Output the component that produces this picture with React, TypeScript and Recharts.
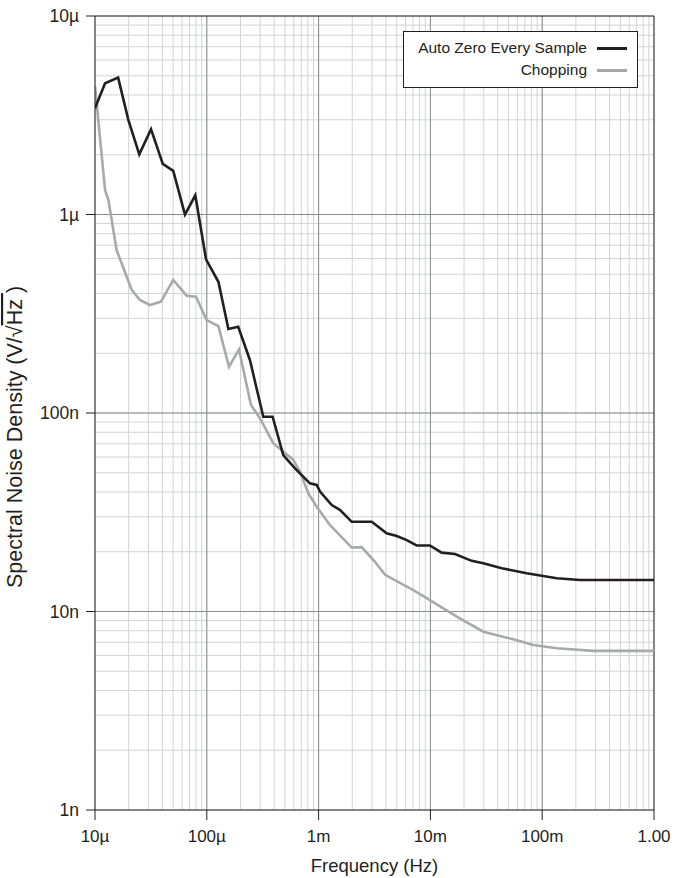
import React from 'react';
import { LineChart, Line, XAxis, YAxis, CartesianGrid, ReferenceLine, Label } from 'recharts';

// Auto Zero Every Sample
const autoZeroFreq = [
    1e-5, 1.23e-5, 1.61e-5, 1.99e-5, 2.49e-5, 3.17e-5, 4.04e-5, 5.01e-5, 6.38e-5, 7.89e-5,
    9.84e-5, 1.27e-4, 1.56e-4, 1.91e-4, 2.43e-4, 3.2e-4, 3.88e-4, 4.83e-4, 6.15e-4, 8.37e-4,
    9.62e-4, 1.03e-3, 1.31e-3, 1.55e-3, 1.98e-3, 2.99e-3, 4.06e-3, 5.0e-3, 6.14e-3, 7.53e-3,
    9.9e-3, 1.26e-2, 1.66e-2, 2.34e-2, 2.97e-2, 4.35e-2, 7.26e-2, 0.135, 0.218, 0.329, 1.0
];
const autoZeroNoise = [
    3.43e-6, 4.58e-6, 4.89e-6, 2.99e-6, 2.01e-6, 2.69e-6, 1.8e-6, 1.66e-6, 1.0e-6, 1.25e-6,
    5.95e-7, 4.58e-7, 2.65e-7, 2.72e-7, 1.85e-7, 9.58e-8, 9.58e-8, 6.14e-8, 5.26e-8, 4.42e-8,
    4.34e-8, 4.02e-8, 3.44e-8, 3.25e-8, 2.83e-8, 2.83e-8, 2.48e-8, 2.4e-8, 2.29e-8, 2.15e-8,
    2.15e-8, 1.98e-8, 1.95e-8, 1.8e-8, 1.75e-8, 1.65e-8, 1.56e-8, 1.47e-8, 1.44e-8, 1.44e-8, 1.44e-8
];

// Chopping
const choppingFreq = [
    1e-5, 1.23e-5, 1.32e-5, 1.56e-5, 1.73e-5, 2.13e-5, 2.52e-5, 3.1e-5, 3.89e-5, 5.01e-5,
    6.61e-5, 8.0e-5, 9.97e-5, 1.27e-4, 1.58e-4, 1.94e-4, 2.48e-4, 2.99e-4, 3.94e-4, 5.94e-4,
    6.83e-4, 8.09e-4, 9.62e-4, 1.26e-3, 1.98e-3, 2.43e-3, 3.19e-3, 3.93e-3, 7.03e-3, 9.9e-3,
    1.72e-2, 2.97e-2, 5.51e-2, 8.32e-2, 0.135, 0.286, 1.0
];
const choppingNoise = [
    4.43e-6, 1.33e-6, 1.18e-6, 6.62e-7, 5.68e-7, 4.17e-7, 3.71e-7, 3.5e-7, 3.64e-7, 4.68e-7,
    3.9e-7, 3.85e-7, 2.94e-7, 2.74e-7, 1.71e-7, 2.09e-7, 1.1e-7, 9.4e-8, 7.03e-8, 5.8e-8,
    5.06e-8, 3.94e-8, 3.37e-8, 2.73e-8, 2.1e-8, 2.11e-8, 1.78e-8, 1.53e-8, 1.28e-8, 1.14e-8,
    9.42e-9, 7.91e-9, 7.24e-9, 6.78e-9, 6.53e-9, 6.33e-9, 6.33e-9
];

const X_MAJOR = [1e-5, 1e-4, 1e-3, 1e-2, 1e-1, 1];
const X_LABELS = ['10µ', '100µ', '1m', '10m', '100m', '1.00'];
const Y_MAJOR = [1e-9, 1e-8, 1e-7, 1e-6, 1e-5];
const Y_LABELS = ['1n', '10n', '100n', '1µ', '10µ'];
const MINOR_STEPS = [2, 3, 4, 5, 6, 7, 8, 9];

const FONT = '"Liberation Sans", Arial, Helvetica, sans-serif';
const INK = '#231f20';
const GRAY_LINE = '#a7a9ac';

const zip = (fs: number[], vs: number[]) => fs.map((f, i) => ({ f, v: vs[i] }));
const autoZeroData = zip(autoZeroFreq, autoZeroNoise);
const choppingData = zip(choppingFreq, choppingNoise);

const withMinor = (majors: number[]) =>
    majors.slice(0, -1).flatMap(m => [m, ...MINOR_STEPS.map(k => k * m)]).concat(majors[majors.length - 1]);

const xTicks = withMinor(X_MAJOR);
const yTicks = withMinor(Y_MAJOR);

const majorIndex = (majors: number[], v: number) => majors.findIndex(m => Math.abs(m - v) / m < 1e-6);

const XTick = (props: any) => {
    const { x, y, payload } = props;
    const i = majorIndex(X_MAJOR, payload.value);
    if (i < 0) return <g />;
    return (
        <g>
            <line x1={x} y1={y} x2={x} y2={y + 10} stroke={INK} strokeWidth={1} />
            <text x={x} y={y + 32} textAnchor="middle" fontFamily={FONT} fontSize={17} fill={INK}>
                {X_LABELS[i]}
            </text>
        </g>
    );
};

const YTick = (props: any) => {
    const { x, y, payload } = props;
    const i = majorIndex(Y_MAJOR, payload.value);
    if (i < 0) return <g />;
    return (
        <g>
            <line x1={x - 9} y1={y} x2={x} y2={y} stroke={INK} strokeWidth={1} />
            <text x={x - 16} y={y + 6} textAnchor="end" fontFamily={FONT} fontSize={17.5} fill={INK}>
                {Y_LABELS[i]}
            </text>
        </g>
    );
};

const YTitle = (props: any) => {
    const vb = props.viewBox || { x: 0, y: 16, width: 95, height: 794 };
    const cx = vb.x + 22;
    const cy = vb.y + vb.height / 2 + 24;
    return (
        <text
            x={cx}
            y={cy}
            transform={`rotate(-90, ${cx}, ${cy})`}
            textAnchor="middle"
            fontFamily={FONT}
            fontSize={21.5}
            fill={INK}
        >
            Spectral Noise Density (V/√<tspan style={{ textDecoration: 'overline' }}>Hz </tspan>)
        </text>
    );
};

const SERIES = [
    { name: 'Auto Zero Every Sample', color: INK },
    { name: 'Chopping', color: GRAY_LINE }
];

const LegendBox = () => (
    <div
        style={{
            position: 'absolute',
            left: 403,
            top: 31,
            boxSizing: 'border-box',
            width: 235,
            height: 57,
            border: `1px solid ${INK}`,
            background: '#fff',
            paddingTop: 5,
            fontFamily: FONT,
            fontSize: 15.5,
            color: INK
        }}
    >
        {SERIES.map(s => (
            <div
                key={s.name}
                style={{ height: 22, display: 'flex', alignItems: 'center', justifyContent: 'flex-end', paddingRight: 10 }}
            >
                <span>{s.name}</span>
                <span style={{ display: 'inline-block', width: 30, height: 3, marginLeft: 10, background: s.color }} />
            </div>
        ))}
    </div>
);

export default function App() {
    return (
        <div style={{ position: 'absolute', left: 0, top: 0, width: 676, height: 878, background: '#fff' }}>
            <LineChart width={676} height={878} margin={{ top: 16, right: 22, left: 0, bottom: 0 }}>
                <CartesianGrid stroke="#d2d3d5" strokeWidth={1} />
                {X_MAJOR.slice(1, -1).map(v => (
                    <ReferenceLine key={`vx-${v}`} x={v} stroke="#8a8c8e" strokeWidth={1} />
                ))}
                {Y_MAJOR.slice(1, -1).map(v => (
                    <ReferenceLine key={`hy-${v}`} y={v} stroke="#8a8c8e" strokeWidth={1} />
                ))}
                <ReferenceLine x={1} stroke={INK} strokeWidth={1} />
                <ReferenceLine y={1e-5} stroke={INK} strokeWidth={1} />
                <XAxis
                    dataKey="f"
                    type="number"
                    scale="log"
                    domain={[1e-5, 1]}
                    allowDataOverflow
                    ticks={xTicks}
                    interval={0}
                    tick={<XTick />}
                    tickLine={false}
                    tickSize={0}
                    tickMargin={0}
                    height={68}
                    axisLine={{ stroke: INK, strokeWidth: 1 }}
                >
                    <Label
                        value="Frequency (Hz)"
                        position="insideBottom"
                        offset={6}
                        style={{ fontFamily: FONT, fontSize: 18.5, fill: INK }}
                    />
                </XAxis>
                <YAxis
                    type="number"
                    scale="log"
                    domain={[1e-9, 1e-5]}
                    allowDataOverflow
                    ticks={yTicks}
                    interval={0}
                    tick={<YTick />}
                    tickLine={false}
                    tickSize={0}
                    tickMargin={0}
                    width={95}
                    axisLine={{ stroke: INK, strokeWidth: 1 }}
                >
                    <Label content={<YTitle />} />
                </YAxis>
                <Line
                    data={choppingData}
                    dataKey="v"
                    name="Chopping"
                    type="linear"
                    stroke={GRAY_LINE}
                    strokeWidth={2.6}
                    dot={false}
                    isAnimationActive={false}
                />
                <Line
                    data={autoZeroData}
                    dataKey="v"
                    name="Auto Zero Every Sample"
                    type="linear"
                    stroke={INK}
                    strokeWidth={2.6}
                    dot={false}
                    isAnimationActive={false}
                />
            </LineChart>
            <LegendBox />
        </div>
    );
}
